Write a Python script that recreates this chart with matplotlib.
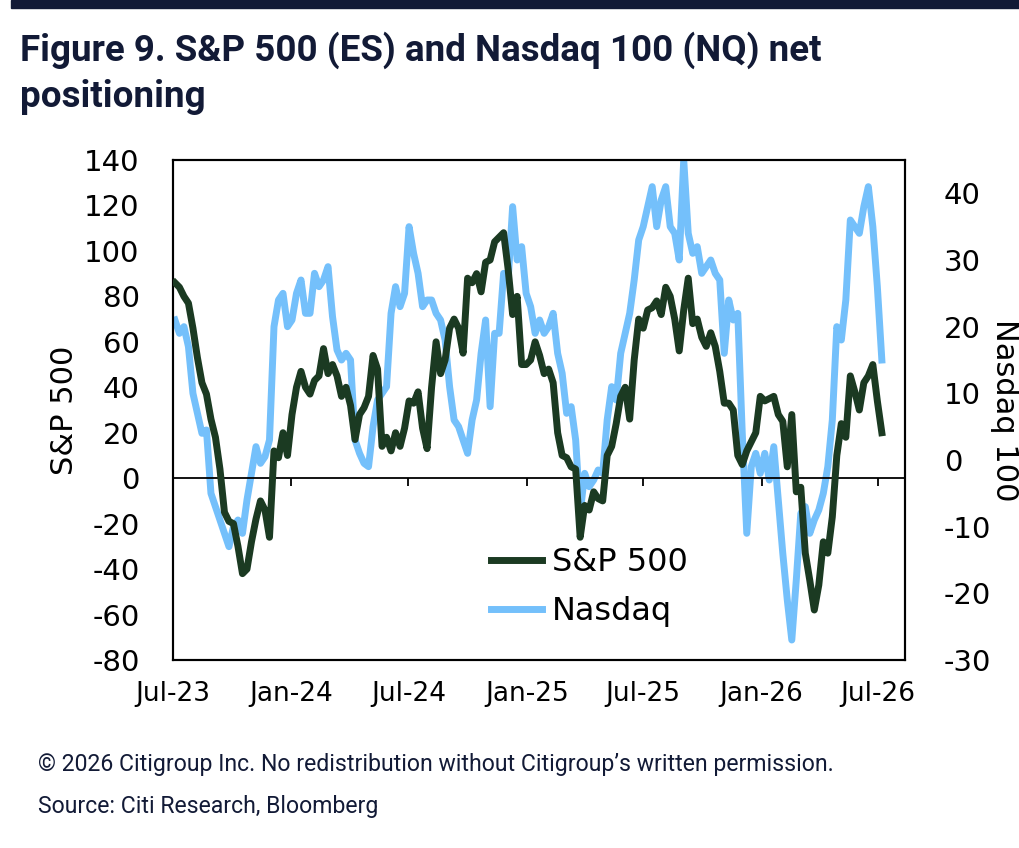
import numpy as np
import pandas as pd
import matplotlib
matplotlib.use("Agg")
from matplotlib import pyplot as plt
import matplotlib.dates as mdates

plt.rcParams["axes.unicode_minus"] = False

# weekly net positioning
start_date = "2023-07-04"
spx = [
    86, 84, 80, 77, 66, 53, 42, 37, 26, 18, 4, -15, -19, -20, -30, -42, -40, -28, -18, -10, -14, -26, 12, 9, 20, 10,
    28, 40, 47, 40, 37, 43, 45, 57, 46, 50, 45, 36, 40, 32, 17, 28, 31, 36, 54, 48, 14, 18, 12, 20, 14, 22, 34,
    33, 38, 22, 13, 40, 60, 46, 52, 66, 70, 66, 55, 88, 86, 90, 82, 95, 96, 104, 106, 108, 92, 72, 80, 50, 50,
    52, 60, 54, 46, 48, 42, 20, 10, 9, 5, 4, -26, -12, -14, -6, -9, -10, 10, 14, 24, 36, 40, 26, 52, 70, 66, 74,
    75, 78, 72, 84, 80, 70, 56, 74, 88, 68, 70, 62, 58, 64, 58, 47, 33, 33, 30, 10, 6, 12, 16, 20, 36, 34, 35,
    36, 28, 25, 5, 28, -6, -4, -33, -45, -58, -47, -28, -33, -17, 10, 24, 18, 45, 38, 30, 42, 45, 50, 34, 20,
]
ndx = [
    21, 19, 20, 17, 10, 7, 4, 4.5, -5, -7, -9, -11, -13, -10, -9, -11, -6, -2, 2, -0.5, 0.5, 3, 20, 24, 25, 20,
    21, 25, 27, 22, 22, 28, 26, 27, 29, 21.5, 16.5, 15, 16, 15, 3, 1, -0.5, -1, 5, 9, 10, 11, 22, 26, 23, 25, 35,
    31, 28, 23, 24, 24, 22, 21, 18, 11, 6, 5, 3, 1, 6, 9, 16, 21, 8, 19, 19, 28, 27, 38, 30, 32, 25,
    23, 19, 21, 19, 20, 22, 16, 13, 7, 8, 3, -8, -2, -4, -3, -1.5, -2, 6, 11, 9, 16, 19, 22, 27, 33, 35, 38,
    41, 35, 39, 41, 35, 34, 30, 45, 34, 31, 32, 28, 29, 30, 28, 27, 16, 24, 21, 22, 4, -11, -1, 1, -2, 1, -3,
    2, -6, -14, -21, -27, -18, -8, -7, -11, -9, -7.5, -5, -1, 6, 20, 18, 24, 36, 35, 34, 38, 41, 35, 26, 15,
]
left_ticks = list(range(-80, 141, 20))
right_ticks = list(range(-30, 41, 10))
x_ticks = ["2023-07-01", "2024-01-01", "2024-07-01", "2025-01-01", "2025-07-01", "2026-01-01", "2026-07-01"]

dates = pd.date_range(start_date, periods=len(spx), freq="7D")

DARK = "#1b3a22"
LIGHT = "#74c0fb"
NAVY = "#121a36"
BODY_FONT = ["DejaVu Sans"]
COND_FONT = ["Roboto", "DejaVu Sans"]

fig = plt.figure(figsize=(10.2, 8.48), dpi=100)
ax = fig.add_axes([173 / 1020, 1 - 660 / 848, (905 - 173) / 1020, 500 / 848])
ax2 = ax.twinx()

ln1, = ax.plot(dates, spx, color=DARK, lw=5, solid_joinstyle="round", label="S&P 500", zorder=3)
ln2, = ax2.plot(dates, ndx, color=LIGHT, lw=5, solid_joinstyle="round", label="Nasdaq", zorder=2)
ax.set_zorder(ax2.get_zorder() + 1)
ax.patch.set_visible(False)

ax.set_ylim(-80, 140)
ax2.set_ylim(-30, 45)
ax.set_yticks(left_ticks)
ax2.set_yticks(right_ticks)

tick_dates = pd.to_datetime(x_ticks)
ax.set_xlim(pd.Timestamp("2023-07-01"), pd.Timestamp("2026-08-12"))
ax.set_xticks(tick_dates)
ax.xaxis.set_major_formatter(mdates.DateFormatter("%b-%y"))

# zero line with the date ticks hanging off it
ax.axhline(0, color="black", lw=1.3, zorder=1)
ax.vlines(tick_dates, -3.5, 0, color="black", lw=1.3, zorder=1)

for a in (ax, ax2):
    for s in a.spines.values():
        s.set_linewidth(1.5)
        s.set_color("black")
ax.tick_params(axis="y", length=0, pad=24, labelsize=21)
ax2.tick_params(axis="y", length=0, pad=28, labelsize=21)
ax.tick_params(axis="x", length=0, pad=15, labelsize=19)
for lab in ax.get_yticklabels() + ax2.get_yticklabels() + ax.get_xticklabels():
    lab.set_family(BODY_FONT)

ax.set_ylabel("S&P 500", fontsize=22, family=BODY_FONT, labelpad=4)
ax2.set_ylabel("Nasdaq 100", fontsize=22, family=BODY_FONT, rotation=270, labelpad=20)

leg = ax.legend(handles=[ln1, ln2], loc="center left", bbox_to_anchor=(0.395, 0.146),
                frameon=False, handlelength=1.6, handletextpad=0.3,
                labelspacing=0.55, prop={"family": BODY_FONT, "size": 23})

# header bar and titles
fig.patches.append(plt.Rectangle((11 / 1020, 1 - 8 / 848), 1, 8 / 848, transform=fig.transFigure,
                                 color=NAVY, zorder=5))
fig.text(20 / 1020, 1 - 50 / 848, "Figure 9. S&P 500 (ES) and Nasdaq 100 (NQ) net",
         fontsize=26.5, fontweight="bold", color=NAVY, family=COND_FONT, va="center")
fig.text(20 / 1020, 1 - 97 / 848, "positioning",
         fontsize=26.5, fontweight="bold", color=NAVY, family=COND_FONT, va="center")
fig.text(38 / 1020, 1 - 765 / 848,
         "\u00a9 2026 Citigroup Inc. No redistribution without Citigroup\u2019s written permission.",
         fontsize=16.6, color=NAVY, family=COND_FONT, va="center")
fig.text(38 / 1020, 1 - 806 / 848, "Source: Citi Research, Bloomberg",
         fontsize=16.6, color=NAVY, family=COND_FONT, va="center")

plt.savefig("out.png", dpi=100)
plt.close()
